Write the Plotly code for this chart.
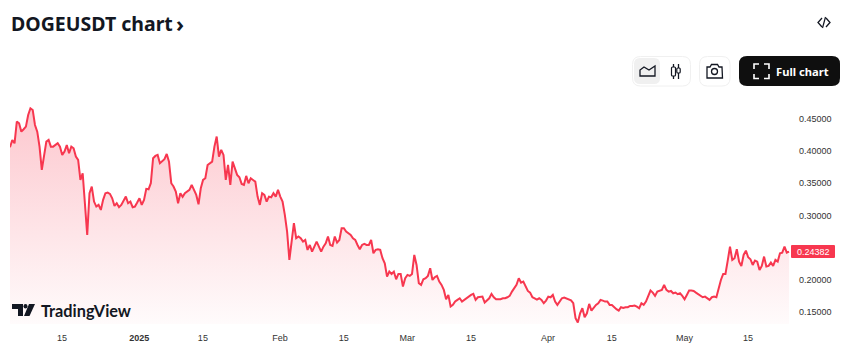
import pandas as pd
import plotly.graph_objects as go

W, H = 850, 364
START = "2024-12-03 13:00"
prices = [
.4060,.4174,.4122,.4459,.4433,.4303,.4340,.4381,.4562,.4666,.4640,.4407,.4303,.4070,.3708,.3941,.4148,.4174,.4070,.4070,
.4096,.4122,.4070,.3941,.3993,.4096,.3967,.4070,.4044,.3915,.3863,.3552,.3656,.3164,.2698,.3345,.3449,.3216,.3138,.3164,.3086,
.3242,.3345,.3355,.3335,.3267,.3148,.3190,.3128,.3164,.3242,.3293,.3190,.3216,.3128,.3138,.3200,.3267,.3164,.3242,.3413,.3407,
.3501,.3889,.3925,.3941,.3811,.3837,.3874,.3956,.3837,.3501,.3449,.3371,.3190,.3345,.3290,.3345,.3371,.3397,.3475,.3397,.3319,
.3174,.3423,.3552,.3578,.3785,.3811,.3837,.4070,.4226,.3915,.4019,.3941,.3552,.3785,.3475,.3837,.3734,.3630,.3594,.3490,
.3475,.3615,.3501,.3578,.3552,.3526,.3293,.3164,.3345,.3319,.3216,.3293,.3283,.3345,.3293,.3397,.3293,.3216,.3008,.2749,
.2309,.2594,.2879,.2646,.2672,
.2645,.2593,.2619,.2464,.2541,.2438,.2515,.2593,.2515,.2438,.2515,.2567,.2671,.2541,.2526,.2671,.2578,.2619,.2800,.2800,
.2749,.2723,.2697,.2645,.2619,.2541,.2474,.2541,.2557,.2541,.2541,.2619,.2412,.2464,.2474,.2464,.2334,.2256,.2049,
.2127,.2090,.2127,.2008,.2091,.2091,.1894,.2023,.2075,.2060,.2091,.2386,.2230,.1946,.1920,.2008,.2023,.2060,.2179,.1997,.2039,
.2060,.1972,.1920,.1842,.1697,.1764,.1583,.1609,.1661,.1687,.1712,.1661,.1687,.1712,.1749,.1764,.1780,.1687,.1728,.1728,
.1738,.1645,.1687,.1712,.1780,.1728,.1697,.1697,.1697,.1712,.1712,.1728,.1749,.1816,.1868,.1920,.2023,.1956,.1972,.1904,
.1826,.1800,.1728,.1712,.1690,.1712,.1687,.1635,.1676,.1738,.1728,.1764,.1661,.1609,
.1661,.1712,.1723,.1712,.1702,.1680,.1635,.1402,.1334,.1479,.1557,.1417,.1479,.1624,.1521,.1573,.1609,.1635,.1687,.1676,.1661,
.1661,.1609,.1609,.1573,.1542,.1521,.1573,.1560,.1573,.1573,.1593,.1593,.1599,.1583,.1557,.1635,.1609,.1661,.1764,.1832,.1800,
.1749,.1816,.1832,.1842,.1920,.1842,.1816,.1826,.1790,.1800,.1775,.1790,.1749,.1697,.1764,.1832,.1832,.1826,.1800,.1780,
.1749,.1728,.1738,.1707,.1687,.1728,.1738,.1728,.1868,.1997,.2091,.2091,.2298,.2515,.2308,.2334,.2474,.2282,.2215,.2386,
.2453,.2350,.2319,.2230,.2298,.2282,.2153,.2215,.2360,.2205,.2215,.2267,.2215,.2308,.2282,.2412,.2422,.2515,.2422,.24382,
]
last_label = "0.24382"
y_ticks = [0.15, 0.20, 0.25, 0.30, 0.35, 0.40, 0.45]
y_labels = ["0.15000", "0.20000", "0.25000", "0.30000", "0.35000", "0.40000", "0.45000"]
x_ticks = ["2024-12-15", "2025-01-01", "2025-01-15", "2025-02-01", "2025-02-15", "2025-03-01",
           "2025-03-15", "2025-04-01", "2025-04-15", "2025-05-01", "2025-05-15"]
x_labels = ["15", "<b>2025</b>", "15", "Feb", "15", "Mar", "15", "Apr", "15", "May", "15"]

dates = pd.date_range(START, periods=len(prices), freq="12h")

def px(x): return x / W
def py(y): return 1 - y / H

fig = go.Figure()
fig.add_trace(go.Scatter(
    x=dates, y=prices, mode="lines", hoverinfo="skip",
    line=dict(color="#F7374F", width=2),
    fill="tozeroy",
    fillgradient=dict(type="vertical", colorscale=[
        [0, "rgba(247,55,79,0.0)"], [0.28, "rgba(247,55,79,0.02)"], [1, "rgba(247,55,79,0.28)"]]),
))

def rrect(x0, y0, x1, y1, r, fill, line=None, lw=1):
    p = (f"M{px(x0+r)},{py(y0)} L{px(x1-r)},{py(y0)} Q{px(x1)},{py(y0)} {px(x1)},{py(y0+r)} "
         f"L{px(x1)},{py(y1-r)} Q{px(x1)},{py(y1)} {px(x1-r)},{py(y1)} L{px(x0+r)},{py(y1)} "
         f"Q{px(x0)},{py(y1)} {px(x0)},{py(y1-r)} L{px(x0)},{py(y0+r)} Q{px(x0)},{py(y0)} {px(x0+r)},{py(y0)} Z")
    return dict(type="path", xref="paper", yref="paper", path=p, fillcolor=fill,
                line=dict(color=line or fill, width=lw if line else 0), layer="above")

def poly(points, color="#131722", lw=1.3, fill=None, close=False):
    p = "M" + " L".join(f"{px(a)},{py(b)}" for a, b in points) + (" Z" if close else "")
    return dict(type="path", xref="paper", yref="paper", path=p,
                fillcolor=fill or "rgba(0,0,0,0)",
                line=dict(color=color, width=lw), layer="above")

shapes = [
    rrect(632.5, 56.5, 690.5, 86, 8, "#FFFFFF", "#F0F0F0"),
    rrect(634, 58, 660, 84, 6, "#F0F0F0"),
    rrect(699.5, 56.5, 730, 86, 8, "#FFFFFF", "#F0F0F0"),
    rrect(739, 56, 840, 86, 8, "#0F0F0F"),
    poly([(640, 76), (640, 70), (644, 67), (649, 70), (655, 66), (655, 76)], close=True),
    poly([(673.5, 64), (673.5, 79)]), rrect(671.5, 67, 675.5, 76, 1, "#FFFFFF", "#131722", 1.2),
    poly([(678.5, 64), (678.5, 79)]), rrect(676.8, 68, 680.2, 73, 1, "#FFFFFF", "#131722", 1.2),
    poly([(707, 67), (710, 67), (711.5, 64.5), (717.5, 64.5), (719, 67), (722, 67), (722.5, 78), (707, 78)], close=True),
    dict(type="circle", xref="paper", yref="paper", x0=px(711.5), x1=px(717.5), y0=py(68.5), y1=py(74.5),
         line=dict(color="#131722", width=1.3), layer="above"),
    poly([(754, 69), (754, 64), (759, 64)], "#FFFFFF", 1.6), poly([(764, 64), (769, 64), (769, 69)], "#FFFFFF", 1.6),
    poly([(754, 74), (754, 78.5), (759, 78.5)], "#FFFFFF", 1.6), poly([(764, 78.5), (769, 78.5), (769, 74)], "#FFFFFF", 1.6),
    poly([(822, 18), (818, 22.5), (822, 27)], "#131722", 1.3), poly([(826, 27), (830, 22.5), (826, 18)], "#131722", 1.3),
    poly([(825.5, 17), (822.5, 28)], "#131722", 1.2),
    poly([(12, 304), (23, 304), (23, 316), (18, 316), (18, 309), (12, 309)], "#131722", 0, "#131722", True),
    dict(type="circle", xref="paper", yref="paper", x0=px(23.5), x1=px(27.5), y0=py(304), y1=py(308.5),
         fillcolor="#131722", line=dict(width=0), layer="above"),
    poly([(29, 304), (35, 304), (29.5, 316), (24, 316)], "#131722", 0, "#131722", True),
    rrect(791, 245, 835, 258, 1, "#F7374F"),
]

def label(x, y, text, size, color="#131722", family="Noto Sans", anchor="left"):
    return dict(x=px(x), y=py(y), xref="paper", yref="paper", text=text,
                showarrow=False, xanchor=anchor, yanchor="middle",
                font=dict(size=size, color=color, family=family))

annotations = [
    label(9, 23, "<b>DOGEUSDT chart</b>", 19.5),
    label(174, 23, "<b>›</b>", 22),
    label(774, 71.5, "<b>Full chart</b>", 11.2, "#FFFFFF"),
    label(39, 310, "<b>TradingView</b>", 16.3, "#131722", "Lato"),
    label(813, 251.5, last_label, 9, "#FFFFFF", "Liberation Sans", "center"),
]

fig.update_layout(
    width=W, height=H, autosize=False,
    margin=dict(l=0, r=0, t=0, b=0),
    paper_bgcolor="#FFFFFF", plot_bgcolor="#FFFFFF",
    showlegend=False, shapes=shapes, annotations=annotations,
    font=dict(family="Liberation Sans", size=9, color="#333333"),
    xaxis=dict(domain=[px(10), px(790)], range=[START, "2025-05-24 06:00"], tickmode="array",
               tickvals=x_ticks, ticktext=x_labels, showgrid=False, zeroline=False, showline=False,
               ticks="", automargin=False, tickangle=0, ticklabelstandoff=7),
    yaxis=dict(domain=[py(324), py(100)], range=[0.1312, 0.4795], side="right", tickmode="array",
               tickvals=y_ticks, ticktext=y_labels, showgrid=False, zeroline=False, showline=False,
               ticks="", automargin=False, ticklabelstandoff=8),
)
fig.write_html("out.html", config=dict(displayModeBar=False),
               post_script="document.body.style.margin='0';document.documentElement.style.overflow='hidden';")
